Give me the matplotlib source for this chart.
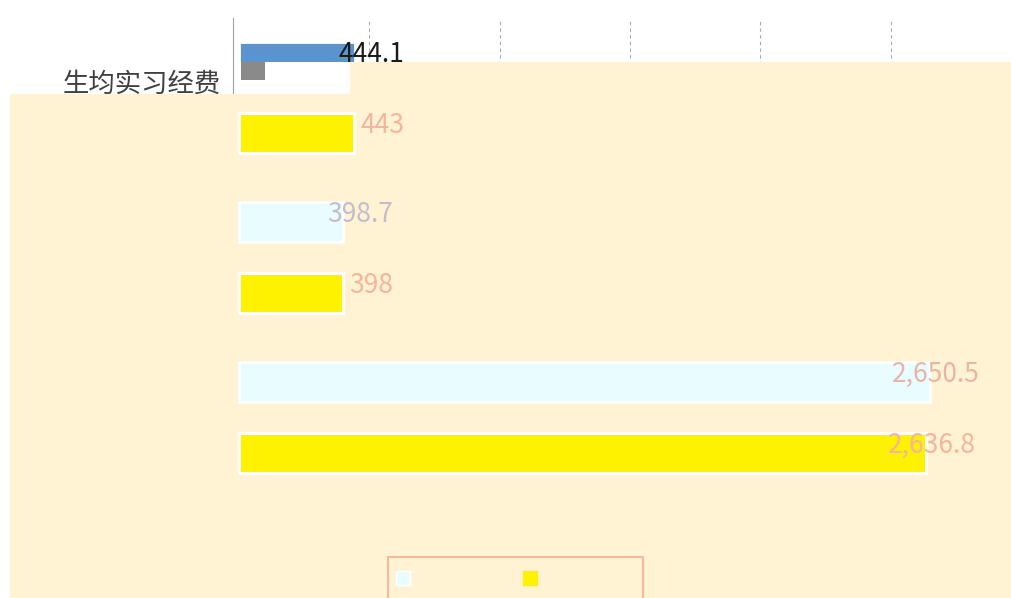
import matplotlib
matplotlib.use('Agg')
import matplotlib.pyplot as plt
import matplotlib.transforms as mtransforms
from matplotlib.patches import Polygon, Rectangle
from matplotlib.lines import Line2D
import numpy as np

plt.rcParams['font.family'] = ['Noto Sans CJK SC', 'DejaVu Sans']

# data
category = ['生均实习经费']
values = [444.1, 443, 398.7, 398, 2650.5, 2636.8]
bar_colors = ['#5b93cf', '#fff200', '#e9fcff', '#fff200', '#e9fcff', '#fff200']
label_colors = ['#1a1a1a', '#f5b49c', '#c4bccd', '#f5b49c', '#e8b4a6', '#f5b49c']

beige = '#fff3d3'
salmon = '#f6b89e'
W, H = 1011, 598

fig = plt.figure(figsize=(W/100, H/100), dpi=100)
fig.patch.set_facecolor('white')
ax = fig.add_axes([233/W, 0, (W-233)/W, (H-18)/H])
ax.set_facecolor('white')

# two bars per group, groups one unit apart
idx = np.arange(len(values))
pos = idx//2 + 0.444*(idx % 2)
zs = [0.8] + [2]*(len(values)-1)
for p, v, c, z in zip(pos, values, bar_colors, zs):
    ax.barh(p, v, height=0.25, color=c, edgecolor='white', linewidth=2, zorder=z)

for p, v, c in zip(pos, values, label_colors):
    ax.annotate(f'{v:,g}', (v, p), xytext=(50, 8), textcoords='offset pixels',
                ha='right', va='center', fontsize=19, color=c, zorder=3)

ax.set_xlim(-23, 2962)
ax.set_ylim(3.35, -0.275)
ax.set_xticks([500, 1000, 1500, 2000, 2500])
ax.tick_params(axis='x', length=0, labelbottom=False)
ax.set_yticks([0.222])
ax.set_yticklabels(category, fontsize=19, color='#404040')
ax.tick_params(axis='y', length=0, pad=9)
off = mtransforms.ScaledTranslation(0, 16/100, fig.dpi_scale_trans)
for t in ax.get_yticklabels():
    t.set_transform(t.get_transform() + off)
ax.grid(axis='x', color='#a8a8a8', linestyle=(0, (3, 3)), linewidth=0.8)
ax.set_axisbelow(True)
for s in ['top', 'right', 'bottom']:
    ax.spines[s].set_visible(False)
ax.spines['left'].set_color('#a0a0a0')
ax.spines['left'].set_zorder(0.6)

# pasted-over beige layer and the scrambled strip under the first bar
fx = lambda x: x/W
fy = lambda y: 1 - y/H
pts = [(10, 94), (350, 94), (350, 62), (W, 62), (W, H), (10, H)]
ax.add_patch(Polygon([(fx(a), fy(b)) for a, b in pts], closed=True,
                     facecolor=beige, edgecolor='none', transform=fig.transFigure,
                     clip_on=False, zorder=1))
ax.add_patch(Rectangle((fx(239), fy(94)), fx(350)-fx(239), fy(62)-fy(94),
                       facecolor='white', edgecolor='none', transform=fig.transFigure,
                       clip_on=False, zorder=0.9))
ax.add_patch(Rectangle((fx(241), fy(80)), fx(265)-fx(241), fy(62)-fy(80),
                       facecolor='#8a8a8a', edgecolor='none', transform=fig.transFigure,
                       clip_on=False, zorder=0.95))

handles = [Line2D([], [], marker='s', ls='', color='#e9fcff', mec='white', markersize=10),
           Line2D([], [], marker='s', ls='', color='#fff200', mec='#fff200', markersize=10)]
leg = fig.legend(handles, ['', ''], loc='upper left', bbox_to_anchor=(fx(388), fy(557)),
                 bbox_transform=fig.transFigure, ncol=2, fontsize=10, frameon=True,
                 fancybox=False, framealpha=1, borderpad=1.1, borderaxespad=0,
                 handlelength=0, handletextpad=7.05, columnspacing=2.09)
leg.get_frame().set_facecolor(beige)
leg.get_frame().set_edgecolor(salmon)
leg.get_frame().set_linewidth(1.5)

plt.savefig('out.png', dpi=100)
plt.close()
